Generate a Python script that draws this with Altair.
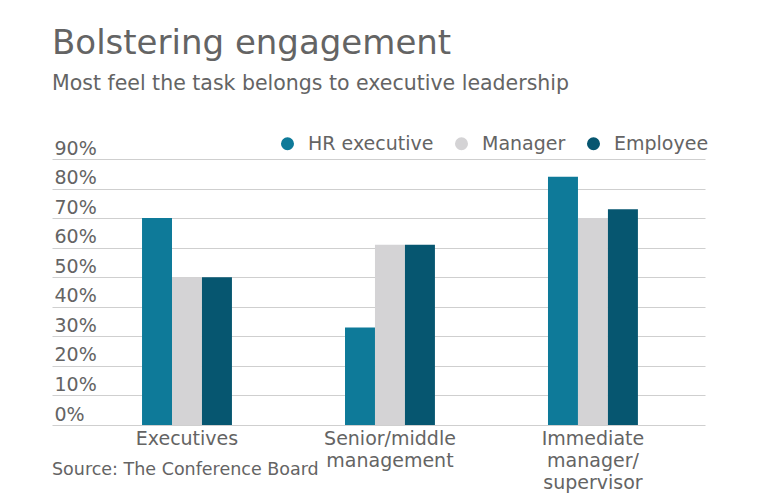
import altair as alt
import pandas as pd

categories = ["Executives", "Senior/middle management", "Immediate manager/supervisor"]
series = ["HR executive", "Manager", "Employee"]
hr_executive = [70, 33, 84]
manager = [50, 61, 70]
employee = [50, 61, 73]
y_ticks = [0, 10, 20, 30, 40, 50, 60, 70, 80, 90]
colors = ["#0e7a99", "#d4d3d5", "#065670"]

rows = []
for vals, s in zip([hr_executive, manager, employee], series):
    for c, v in zip(categories, vals):
        rows.append({"group": c, "series": s, "value": v})
df = pd.DataFrame(rows)

FONT = "DejaVu Sans"
TXT = "#646464"

label_expr = ("datum.label == 'Senior/middle management' ? ['Senior/middle', 'management'] : "
              "datum.label == 'Immediate manager/supervisor' ? ['Immediate', 'manager/', 'supervisor'] : datum.label")

bars = alt.Chart(df).mark_bar().encode(
    x=alt.X("group:N", sort=categories,
            scale=alt.Scale(paddingInner=0.557, paddingOuter=0.387, align=0.573),
            axis=alt.Axis(title=None, labelExpr=label_expr, ticks=False, domain=False,
                          labelAngle=0, labelFontSize=19, labelColor=TXT, labelFont=FONT,
                          labelPadding=4, labelLineHeight=22, labelBaseline="top", grid=False)),
    xOffset=alt.XOffset("series:N", sort=series, scale=alt.Scale(paddingInner=0, paddingOuter=0)),
    y=alt.Y("value:Q", scale=alt.Scale(domain=[0, 90], nice=False),
            axis=alt.Axis(title=None, values=y_ticks, labelExpr="datum.value + '%'",
                          ticks=False, tickSize=0, domain=False, labelAlign="left",
                          labelBaseline="alphabetic", labelOffset=-5, labelPadding=-2,
                          labelFontSize=19, labelColor=TXT, labelFont=FONT,
                          grid=True, gridColor="#cfcfcf", gridWidth=1)),
    color=alt.Color("series:N", sort=series,
                    scale=alt.Scale(domain=series, range=colors),
                    legend=alt.Legend(title=None, orient="none", legendX=226, legendY=-25,
                                      direction="horizontal", symbolType="circle",
                                      symbolSize=170, symbolStrokeWidth=0,
                                      labelFontSize=19, labelColor=TXT, labelFont=FONT,
                                      labelOffset=11, columnPadding=18, padding=0)),
)

source = alt.Chart(pd.DataFrame({"t": ["Source: The Conference Board"]})).mark_text(
    align="left", baseline="alphabetic", fontSize=17.5, font=FONT, color=TXT
).encode(x=alt.value(0), y=alt.value(316), text="t:N")

chart = alt.layer(bars, source).properties(
    width=653, height=266,
    title=alt.Title("Bolstering engagement",
                    subtitle="Most feel the task belongs to executive leadership",
                    anchor="start", font=FONT, fontSize=34, fontWeight="normal", color=TXT,
                    subtitleFont=FONT, subtitleFontSize=20.5, subtitleColor=TXT,
                    subtitlePadding=13, offset=40),
    autosize=alt.AutoSizeParams(type="none"),
    padding={"left": 44, "top": 151, "right": 50, "bottom": 70},
).configure_view(stroke=None)

chart.save("out.html", embed_options={"renderer": "svg", "actions": False})
